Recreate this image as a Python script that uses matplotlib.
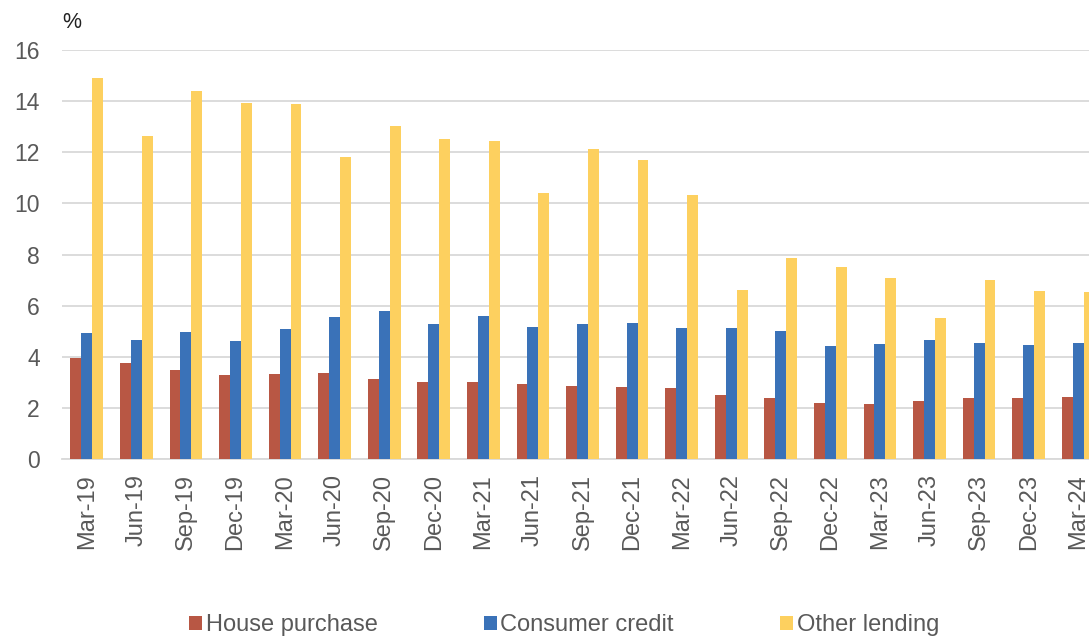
"""
    三类贷款利率柱状图
"""
import numpy as np
from matplotlib import pyplot as plt

plt.rcParams['font.family'] = ['Liberation Sans', 'DejaVu Sans']

quarters = ["Mar-19", "Jun-19", "Sep-19", "Dec-19", "Mar-20", "Jun-20", "Sep-20",
            "Dec-20", "Mar-21", "Jun-21", "Sep-21", "Dec-21", "Mar-22", "Jun-22",
            "Sep-22", "Dec-22", "Mar-23", "Jun-23", "Sep-23", "Dec-23", "Mar-24"]
house = [3.94, 3.75, 3.47, 3.29, 3.31, 3.35, 3.14, 3.02, 3.00, 2.93, 2.86,
         2.81, 2.76, 2.49, 2.38, 2.18, 2.17, 2.26, 2.37, 2.39, 2.44]
consumer = [4.93, 4.66, 4.97, 4.60, 5.08, 5.56, 5.80, 5.30, 5.60, 5.16, 5.30,
            5.33, 5.12, 5.12, 5.00, 4.43, 4.49, 4.66, 4.53, 4.46, 4.53]
other = [14.90, 12.64, 14.40, 13.93, 13.89, 11.82, 13.03, 12.52, 12.44, 10.41, 12.13,
         11.70, 10.33, 6.61, 7.86, 7.51, 7.08, 5.52, 7.00, 6.57, 6.53]

grey = "#595959"
fig = plt.figure(figsize=(10.89, 6.37), dpi=100)
# 右边故意伸出画布一点
ax = fig.add_axes([62 / 1089, 178 / 637, 1041 / 1089, 409 / 637])

x = np.arange(len(quarters))
w = 0.22
ax.bar(x - w, house, w, color="#B85744", label="House purchase", zorder=3)
ax.bar(x, consumer, w, color="#3A72B8", label="Consumer credit", zorder=3)
ax.bar(x + w, other, w, color="#FDD05F", label="Other lending", zorder=3)

ax.set_xlim(-0.5, len(quarters) - 0.5)
ax.set_ylim(0, 16)
ax.set_yticks(range(0, 17, 2))
ax.set_xticks(x)
ax.set_xticklabels(quarters, rotation=90)
ax.grid(axis="y", color="#D9D9D9", linewidth=1.3, zorder=0)

for s in ["top", "right", "left"]:
    ax.spines[s].set_visible(False)
ax.spines["bottom"].set_color("#D9D9D9")
ax.spines["bottom"].set_linewidth(1.3)
ax.tick_params(axis="both", length=0, labelcolor=grey)
ax.tick_params(axis="y", pad=16, labelsize=16.5)
ax.tick_params(axis="x", pad=11, labelsize=17)

fig.text(62 / 1089, 1 - 22 / 637, "%", fontsize=15.5, color="#222222", va="center")

fig.legend(loc="center", bbox_to_anchor=(564 / 1089, 1 - 625 / 637), ncol=3,
           frameon=False, fontsize=17, labelcolor=grey, handlelength=0.55,
           handleheight=0.55, handletextpad=0.15, columnspacing=4.5)

plt.savefig("out.png", dpi=100)
